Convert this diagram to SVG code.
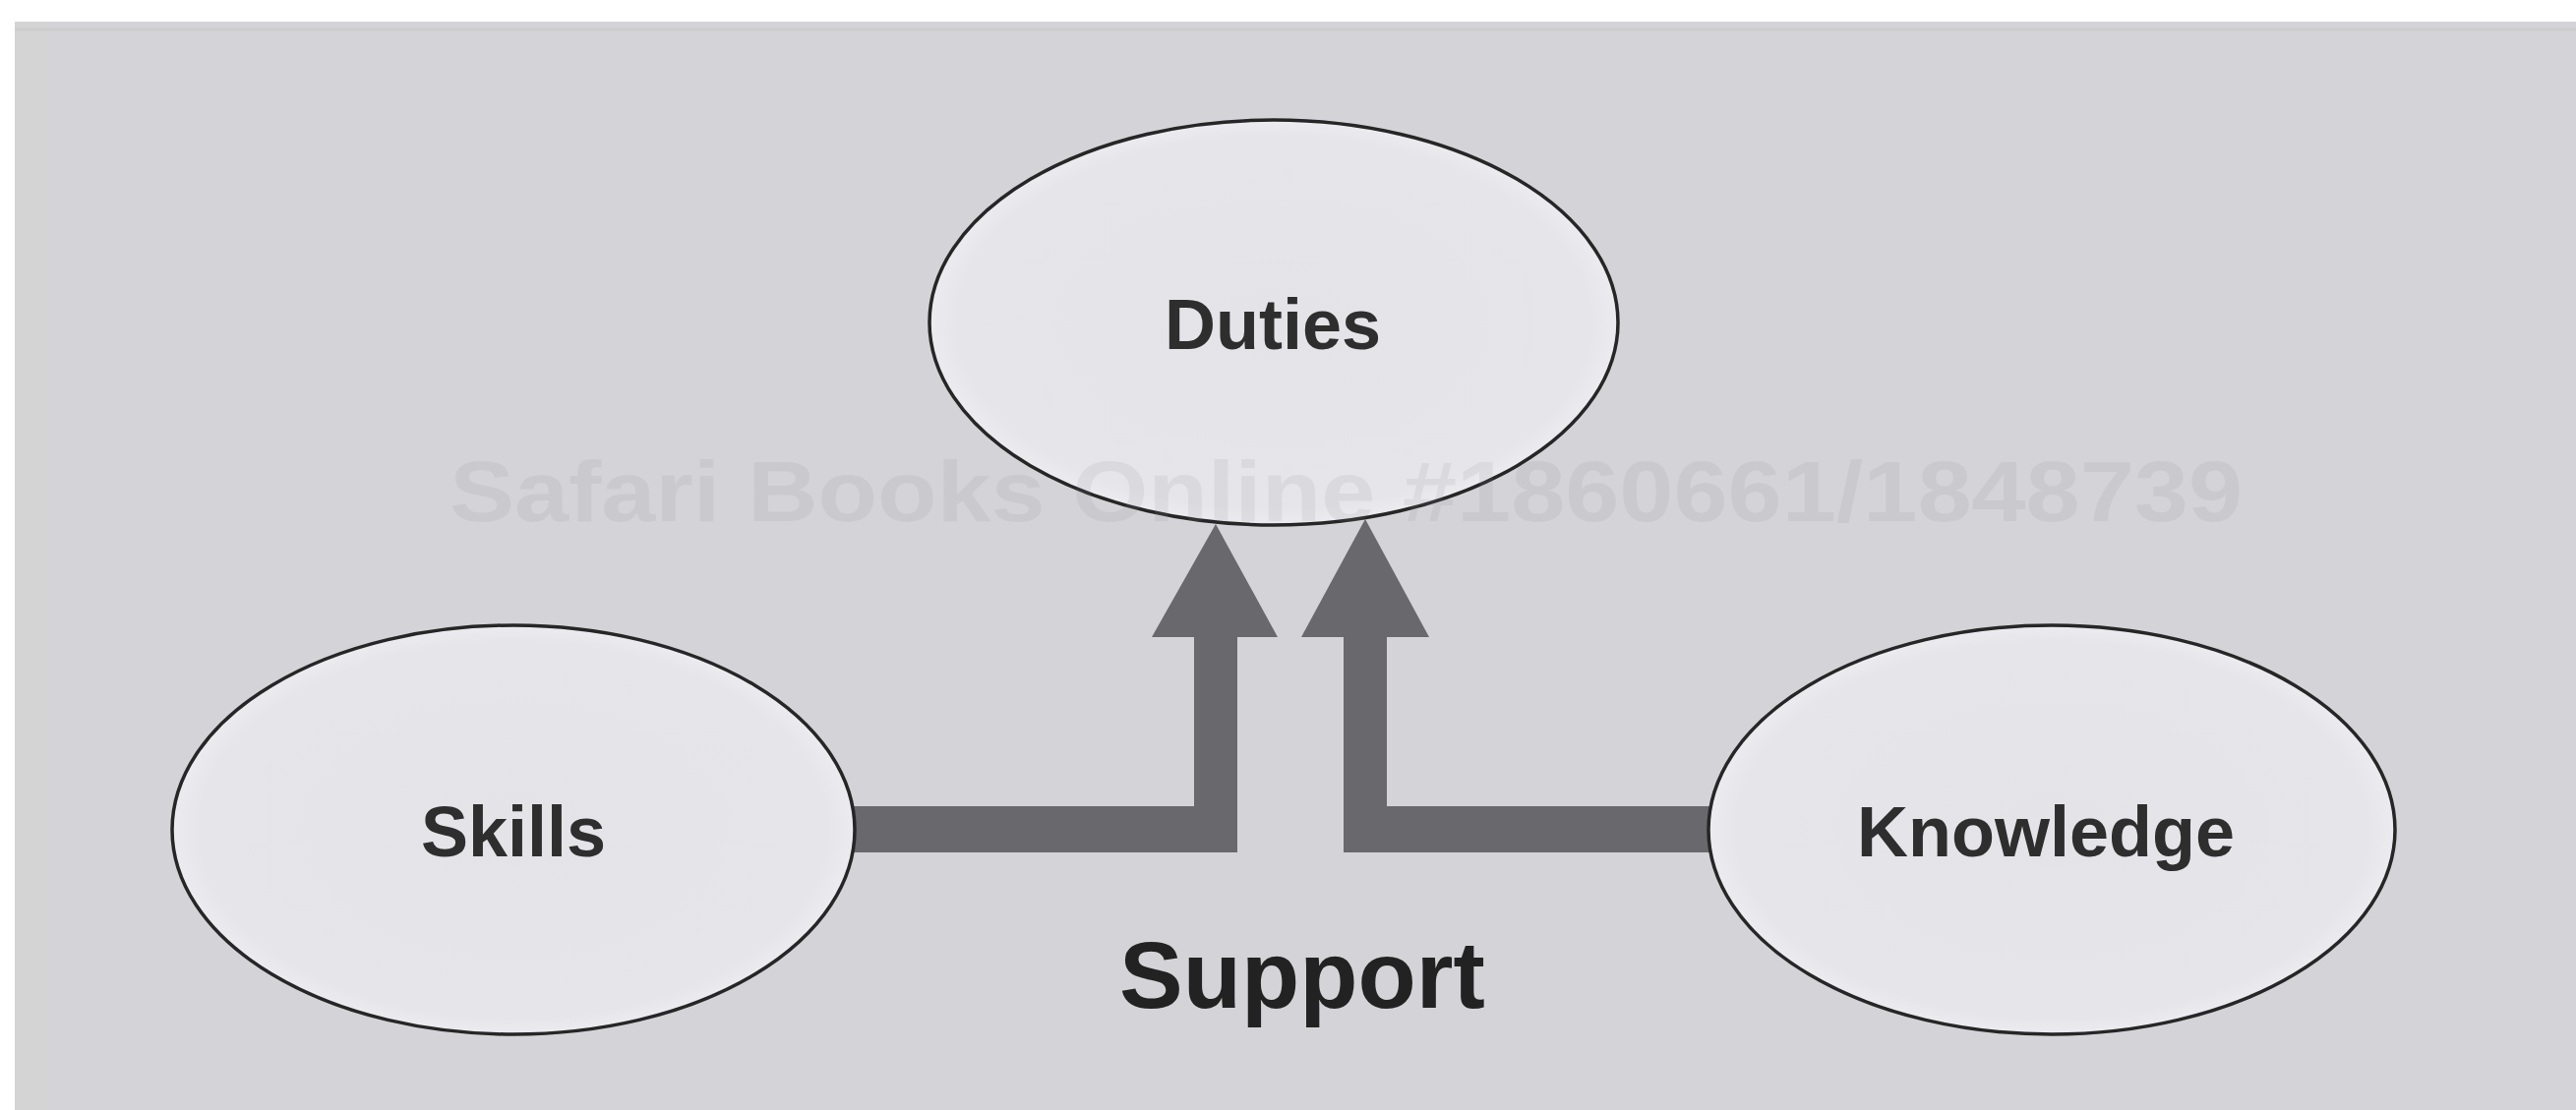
<svg xmlns="http://www.w3.org/2000/svg" width="2619" height="1129" viewBox="0 0 2619 1129">
  <defs>
    <radialGradient id="ellFill" cx="50%" cy="50%" r="50%">
      <stop offset="0%" stop-color="#e4e3e8"/>
      <stop offset="92%" stop-color="#e6e5ea"/>
      <stop offset="100%" stop-color="#ecebef"/>
    </radialGradient>
    <style>
      .node ellipse { fill: url(#ellFill); stroke: #262626; stroke-width: 3.5; }
      .label { font-family: "Liberation Sans", Arial, sans-serif; font-weight: bold; font-size: 72px; fill: #2e2e2e; text-anchor: middle; }
      .conn { fill: #69686d; stroke: none; }
      .support { font-family: "Liberation Sans", Arial, sans-serif; font-weight: bold; font-size: 97px; fill: #222222; text-anchor: middle; }
      .wm { font-family: "Liberation Sans", Arial, sans-serif; font-weight: bold; font-size: 88px; fill: #8a8990; fill-opacity: 0.13; }
    </style>
  </defs>

  <rect x="0" y="0" width="2619" height="1129" fill="#ffffff"/>
  <rect x="15" y="22" width="2604" height="1107" fill="#d4d3d7"/>
  <rect x="15" y="22" width="31" height="1107" fill="#d4d4d4"/>
  <line x1="15" y1="30" x2="2619" y2="30" stroke="#cdcdcd" stroke-width="3"/>

  <g id="connectors">
    <polygon class="conn" points="850,820 1214,820 1214,648 1171,648 1236,533 1299,648 1258,648 1258,867 850,867"/>
    <polygon class="conn" points="1760,820 1410,820 1410,648 1453,648 1388,528 1323,648 1366,648 1366,867 1760,867"/>
  </g>

  <g id="node-duties" class="node">
    <ellipse cx="1295" cy="328" rx="350" ry="206"/>
    <text class="label" x="1294" y="355">Duties</text>
  </g>

  <g id="node-skills" class="node">
    <ellipse cx="522" cy="844" rx="347" ry="208"/>
    <text class="label" x="522" y="871">Skills</text>
  </g>

  <g id="node-knowledge" class="node">
    <ellipse cx="2086" cy="844" rx="349" ry="208"/>
    <text class="label" x="2080" y="871">Knowledge</text>
  </g>

  <text id="label-support" class="support" x="1324" y="1025">Support</text>

  <text id="watermark" class="wm" x="457" y="530" textLength="1823" lengthAdjust="spacingAndGlyphs">Safari Books Online #1860661/1848739</text>
</svg>
